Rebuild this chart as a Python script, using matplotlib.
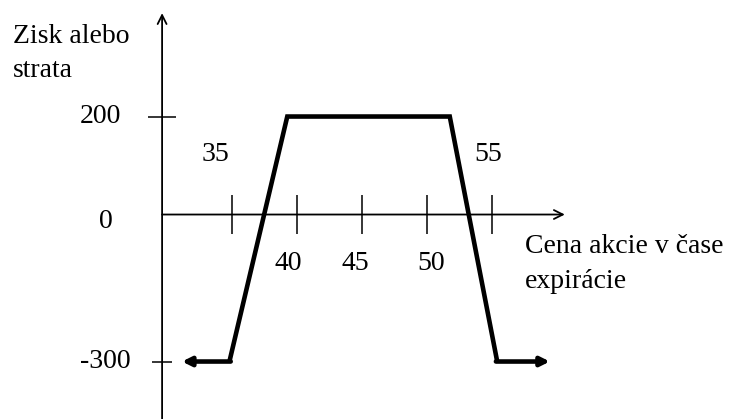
import matplotlib
matplotlib.use("Agg")
import matplotlib.pyplot as plt

plt.rcParams['font.family'] = ['Liberation Serif', 'DejaVu Serif']

# payoff diagram (price, profit)
price = [34.8, 39.25, 51.75, 55.4]
profit = [-300, 200, 200, -300]
left_arrow_end = 31.15
right_arrow_end = 59.45

x_ticks = [35, 40, 45, 50, 55]
x_tick_labels = ["35", "40", "45", "50", "55"]
y_ticks = [200, -300]
y_tick_labels = ["200", "0", "-300"]

# ---------------------------------------------------------------- figure
fig = plt.figure(figsize=(7.33, 4.19), dpi=100)
ax = fig.add_axes([0, 0, 1, 1])
ax.set_xlim(17.15, 73.54)
ax.set_ylim(-417.3, 437.8)
ax.axis("off")

FS = 20
y_axis_x = 29.62

# axes drawn by hand, with open arrow heads
ax.annotate("", xy=(y_axis_x, 411), xytext=(y_axis_x, -430),
            arrowprops=dict(arrowstyle="->", lw=1.3, color="black",
                            mutation_scale=16, shrinkA=0, shrinkB=0))
ax.annotate("", xy=(60.6, 0), xytext=(y_axis_x, 0),
            arrowprops=dict(arrowstyle="->", lw=1.3, color="black",
                            mutation_scale=16, shrinkA=0, shrinkB=0))

# tick marks
ax.vlines(x_ticks, -39, 39, color="black", lw=1.1)
ax.hlines(y_ticks, [y_axis_x - 1.1, y_axis_x - 0.8], [y_axis_x + 1.1, y_axis_x + 0.8],
          color="black", lw=1.1)

# tick labels
x_label_pos = [33.7, 39.3, 44.45, 50.3, 54.7]
x_label_y = [123.5, -99, -99, -99, 123.5]
for xp, yp, t in zip(x_label_pos, x_label_y, x_tick_labels):
    ax.text(xp, yp, t, fontsize=FS, ha="center", va="center")

y_label_x = [24.85, 25.3, 25.25]
y_label_y = [200, -15, -300]
for xp, yp, t in zip(y_label_x, y_label_y, y_tick_labels):
    ax.text(xp, yp, t, fontsize=FS, ha="center", va="center")

# axis titles
ax.text(18.15, 350, "Zisk alebo", fontsize=FS, ha="left", va="baseline")
ax.text(18.15, 280.6, "strata", fontsize=FS, ha="left", va="baseline")
ax.text(57.54, -78.6, "Cena akcie v čase", fontsize=FS, ha="left", va="baseline")
ax.text(57.54, -150, "expirácie", fontsize=FS, ha="left", va="baseline")

# payoff line
ax.plot(price, profit, color="black", lw=3.3, solid_joinstyle="miter",
        solid_capstyle="butt")
ax.annotate("", xy=(left_arrow_end, profit[0]), xytext=(price[0] + 0.1, profit[0]),
            arrowprops=dict(arrowstyle="-|>", lw=3.3, color="black",
                            mutation_scale=13, shrinkA=0, shrinkB=0))
ax.annotate("", xy=(right_arrow_end, profit[-1]), xytext=(price[-1] - 0.1, profit[-1]),
            arrowprops=dict(arrowstyle="-|>", lw=3.3, color="black",
                            mutation_scale=13, shrinkA=0, shrinkB=0))

fig.savefig("out.png", dpi=100)
